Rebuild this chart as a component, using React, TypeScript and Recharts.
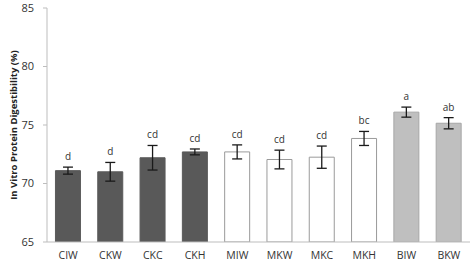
import { BarChart, Bar, XAxis, YAxis, ErrorBar, Cell, LabelList } from 'recharts'

const samples = ['CIW', 'CKW', 'CKC', 'CKH', 'MIW', 'MKW', 'MKC', 'MKH', 'BIW', 'BKW']
const digestibility = [71.1, 71.0, 72.2, 72.7, 72.7, 72.05, 72.25, 73.85, 76.1, 75.15]
const sdev = [0.3, 0.8, 1.05, 0.25, 0.6, 0.8, 0.95, 0.6, 0.43, 0.48]
const letters = ['d', 'd', 'cd', 'cd', 'cd', 'cd', 'cd', 'bc', 'a', 'ab']
const groups = ['C', 'C', 'C', 'C', 'M', 'M', 'M', 'M', 'B', 'B']
const yTicks = [65, 70, 75, 80, 85]

const FILL: Record<string, string> = { C: '#595959', M: '#ffffff', B: '#bfbfbf' }
const EDGE: Record<string, string> = { C: '#5a5a5a', M: '#9a9a9a', B: '#a6a6a6' }
const FRAME = '#bdbdbd'
const FONT = '"Open Sans", "Liberation Sans", sans-serif'

const data = samples.map((name, i) => ({
  name,
  value: digestibility[i],
  err: sdev[i],
  letter: letters[i],
}))

// letter sits a few px above the error bar top
const LetterLabel = (props: any) => {
  const { x, y, width, height, index } = props
  const perUnit = height / (digestibility[index] - 65)
  const top = y - sdev[index] * perUnit
  return (
    <text x={x + width / 2} y={top - 7} textAnchor="middle" fontSize={10} fill="#333333" fontFamily={FONT}>
      {letters[index]}
    </text>
  )
}

export default function App() {
  return (
    <div style={{ position: 'absolute', left: 0, top: 0, background: '#fff' }}>
      <BarChart
        width={475}
        height={262}
        data={data}
        margin={{ top: 8, right: 5, left: 0, bottom: 0 }}
        barCategoryGap="20%"
      >
        <XAxis
          dataKey="name"
          height={20}
          tickLine={false}
          tickSize={0}
          axisLine={{ stroke: FRAME }}
          tickMargin={10}
          tick={{ fontSize: 10.5, fill: '#333', fontFamily: FONT }}
          interval={0}
        />
        <XAxis xAxisId="top" orientation="top" dataKey="name" height={0} tick={false} tickLine={false} axisLine={{ stroke: FRAME }} />
        <YAxis
          domain={[65, 85]}
          ticks={yTicks}
          width={47}
          tickSize={4}
          tickMargin={9}
          tickLine={{ stroke: FRAME }}
          axisLine={{ stroke: FRAME }}
          tick={{ fontSize: 11, fill: '#333', fontFamily: FONT }}
          allowDataOverflow
          label={{
            value: 'In Vitro Protein Digestibility (%)',
            angle: -90,
            position: 'insideLeft',
            offset: 0,
            dx: 14,
            style: { fontSize: 9.5, fontWeight: 700, fill: '#222', fontFamily: FONT, textAnchor: 'middle' },
          }}
        />
        <YAxis yAxisId="right" orientation="right" width={0} domain={[65, 85]} tick={false} tickLine={false} axisLine={{ stroke: FRAME }} />
        <Bar dataKey="value" isAnimationActive={false} strokeWidth={1}>
          {data.map((_, i) => (
            <Cell key={i} fill={FILL[groups[i]]} stroke={EDGE[groups[i]]} />
          ))}
          <ErrorBar dataKey="err" width={5} stroke="#1a1a1a" strokeWidth={1.3} />
          <LabelList dataKey="letter" content={LetterLabel} />
        </Bar>
      </BarChart>
    </div>
  )
}
